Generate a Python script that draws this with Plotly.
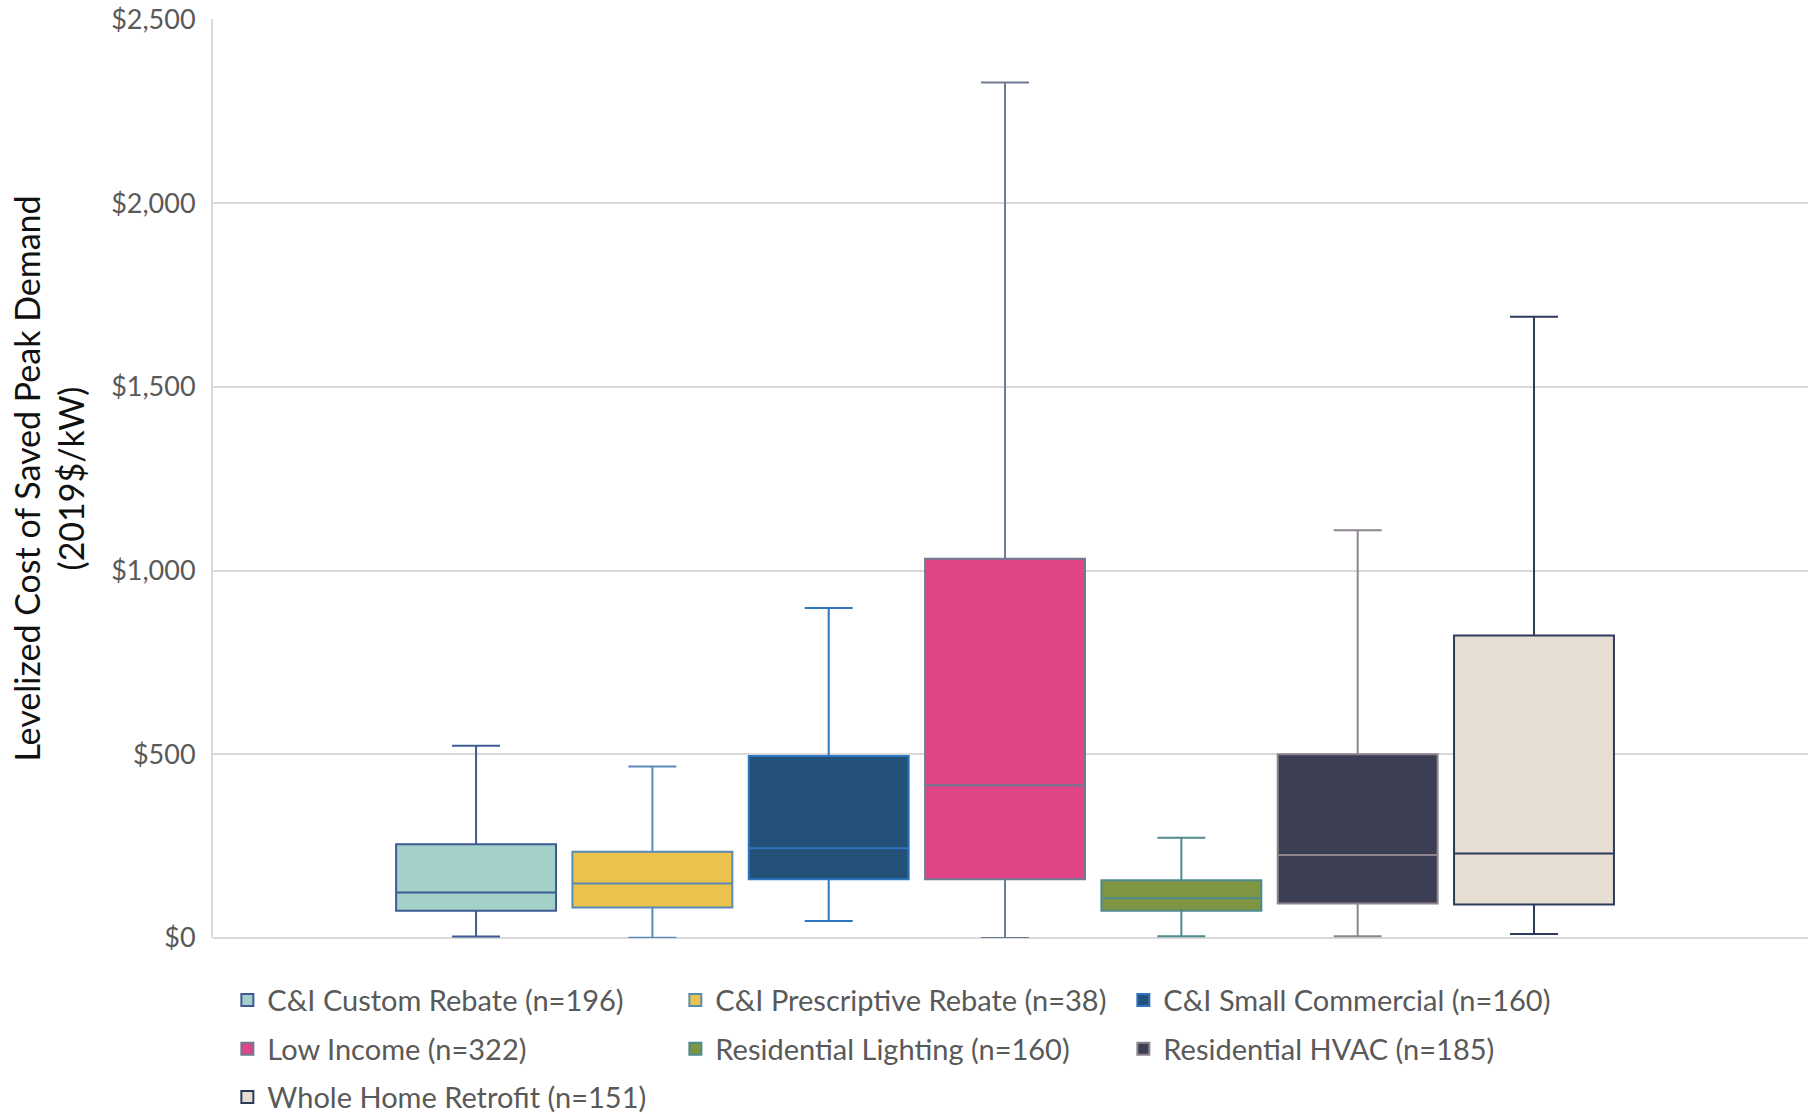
import plotly.graph_objects as go

categories = [
    "C&I Custom Rebate (n=196)",
    "C&I Prescriptive Rebate (n=38)",
    "C&I Small Commercial (n=160)",
    "Low Income (n=322)",
    "Residential Lighting (n=160)",
    "Residential HVAC (n=185)",
    "Whole Home Retrofit (n=151)",
]
lower_whisker = [4, 1, 46, 0, 5, 5, 11]
q1_values = [74, 83, 160, 160, 74, 94, 91]
median_values = [124, 148, 244, 416, 108, 226, 230]
q3_values = [255, 235, 495, 1032, 157, 500, 823]
upper_whisker = [523, 467, 898, 2328, 273, 1110, 1691]

fill_colors = ["#A4D0CA", "#E9C34B", "#245178", "#E04587", "#7E9641", "#3C3F54", "#E6DED3"]
line_colors = ["#3E5A94", "#5A8AB8", "#2E75C0", "#6E7A90", "#4E8A8E", "#8E8490", "#2C3A5C"]

tick_vals = [0, 500, 1000, 1500, 2000, 2500]
tick_text = ["$0", "$500", "$1,000", "$1,500", "$2,000", "$2,500"]

legend_rows = ["legend", "legend", "legend", "legend2", "legend2", "legend2", "legend3"]

fig = go.Figure()
for i, name in enumerate(categories):
    fig.add_trace(go.Box(
        name=name,
        x=[i + 1],
        q1=[q1_values[i]],
        median=[median_values[i]],
        q3=[q3_values[i]],
        lowerfence=[lower_whisker[i]],
        upperfence=[upper_whisker[i]],
        width=0.907,
        whiskerwidth=0.3,
        fillcolor=fill_colors[i],
        line=dict(color=line_colors[i], width=2),
        boxpoints=False,
        legend=legend_rows[i],
    ))

font_family = "Lato, 'Noto Sans', sans-serif"
legend_common = dict(
    orientation="h",
    xref="paper", yref="paper",
    x=0.009, xanchor="left", yanchor="middle",
    font=dict(family=font_family, size=29, color="#595959"),
    entrywidth=403, entrywidthmode="pixels",
    bgcolor="rgba(0,0,0,0)",
)

fig.update_layout(
    width=1817, height=1114,
    margin=dict(l=213, r=9, t=19, b=176, autoexpand=False),
    paper_bgcolor="white", plot_bgcolor="white",
    boxmode="overlay",
    font=dict(family=font_family, color="#595959"),
    xaxis=dict(range=[-0.492, 8.554], showticklabels=False, showgrid=False,
               zeroline=False, showline=False, ticks=""),
    yaxis=dict(
        range=[0, 2501],
        tickvals=tick_vals, ticktext=tick_text,
        tickfont=dict(family=font_family, size=27, color="#595959"),
        ticklabeloverflow="allow",
        showgrid=True, gridcolor="#D9D9D9", gridwidth=2,
        zeroline=True, zerolinecolor="#D9D9D9", zerolinewidth=2,
        showline=True, linecolor="#D9D9D9", linewidth=2,
        ticks="outside", ticklen=10, tickcolor="rgba(0,0,0,0)",
        title=dict(text="Levelized Cost of Saved Peak Demand<br>(2019$/kW)",
                   font=dict(family=font_family, size=34, color="#111111"),
                   standoff=16),
    ),
    legend=dict(**legend_common, y=-0.0675),
    legend2=dict(**legend_common, y=-0.1208),
    legend3=dict(**legend_common, y=-0.1731),
)

fig.write_html("out.html", config={"displayModeBar": False},
               post_script="document.body.style.margin='0';")
